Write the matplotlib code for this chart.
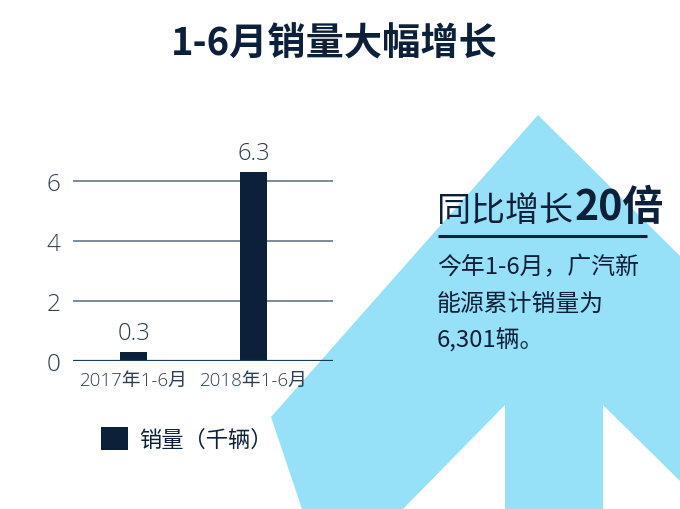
import matplotlib
matplotlib.use("Agg")
import matplotlib.pyplot as plt
from matplotlib.patches import Polygon, Patch

plt.rcParams['font.family'] = ['Noto Sans CJK SC', 'DejaVu Sans']

categories = ["2017年1-6月", "2018年1-6月"]
values = [0.3, 6.3]
value_labels = ["0.3", "6.3"]
yticks = [0, 2, 4, 6]
legend_label = "销量（千辆）"
title = "1-6月销量大幅增长"
headline_a = "同比增长"
headline_b = "20倍"
paragraph = ["今年1-6月，广汽新", "能源累计销量为", "6,301辆。"]

NAVY = "#0C2039"
GRID = "#5A6B7C"
ARROW = "#97E1F8"
W, H = 680, 510
LATIN = ["Open Sans", "Noto Sans CJK SC", "DejaVu Sans"]

fig = plt.figure(figsize=(6.8, 5.1), dpi=100)
fig.patch.set_facecolor("white")

# background layer in pixel coordinates
bg = fig.add_axes([0, 0, 1, 1], zorder=0)
bg.set_xlim(0, W)
bg.set_ylim(H, 0)
bg.axis("off")
arrow = [(538, 116), (271, 418), (302, 510), (403, 510), (505, 406), (505, 510),
         (603, 510), (603, 406), (680, 482), (680, 257)]
bg.add_patch(Polygon(arrow, closed=True, facecolor=ARROW, edgecolor="none"))

bg.text(334, 44, title, ha="center", va="center", fontsize=27.5, fontweight="bold", color=NAVY)

# headline on the right
bg.text(437, 212, headline_a, ha="left", va="center", fontsize=24.5, color=NAVY)
bg.text(575, 208, headline_b, ha="left", va="center", fontsize=29.5, fontweight="heavy", color=NAVY)
bg.plot([438, 647], [236.5, 236.5], color=NAVY, lw=2.2, solid_capstyle="butt")
for i, line in enumerate(paragraph):
    bg.text(437, 268 + i * 36, line, ha="left", va="center", fontsize=17.2, color=NAVY)

# bar chart
ax_left, ax_right = 73, 333
ax_bottom, ax_top = 362, 152
ax = fig.add_axes([ax_left / W, 1 - ax_bottom / H, (ax_right - ax_left) / W, (ax_bottom - ax_top) / H],
                  zorder=1)
ax.set_facecolor("none")
x = list(range(len(categories)))
ax.bar(x, values, width=0.225, color=NAVY, zorder=3)
for xi, v, lab in zip(x, values, value_labels):
    ax.text(xi, v + 0.25, lab, ha="center", va="bottom", fontsize=17,
            color="#2A3A4C", family=LATIN, fontweight="light")
ax.set_xlim(-0.505, 1.66)
ax.set_ylim(0, 7)
ax.set_yticks(yticks)
ax.set_yticklabels([str(t) for t in yticks], fontsize=17.5, color="#2F3F52",
                   family=LATIN, fontweight="light")
ax.set_xticks(x)
ax.set_xticklabels(categories, fontsize=13.5, color="#2F3F52",
                   family=LATIN, fontweight="light")
ax.tick_params(axis="both", length=0)
ax.tick_params(axis="y", pad=9)
ax.tick_params(axis="x", pad=7)
for s in ax.spines.values():
    s.set_visible(False)
for t in yticks[1:]:
    ax.axhline(t, color=GRID, lw=1.1, zorder=1)
ax.axhline(0, color="#1B3A56", lw=1.6, zorder=4)

fig.legend(handles=[Patch(facecolor=NAVY, edgecolor="none")], labels=[legend_label],
           loc="center left", bbox_to_anchor=(101 / W, 1 - 440 / H), frameon=False,
           fontsize=16, handlelength=1.22, handleheight=1.22, handletextpad=0.5,
           borderpad=0, borderaxespad=0, labelcolor=NAVY)

fig.savefig("out.png", dpi=100, facecolor="white")
